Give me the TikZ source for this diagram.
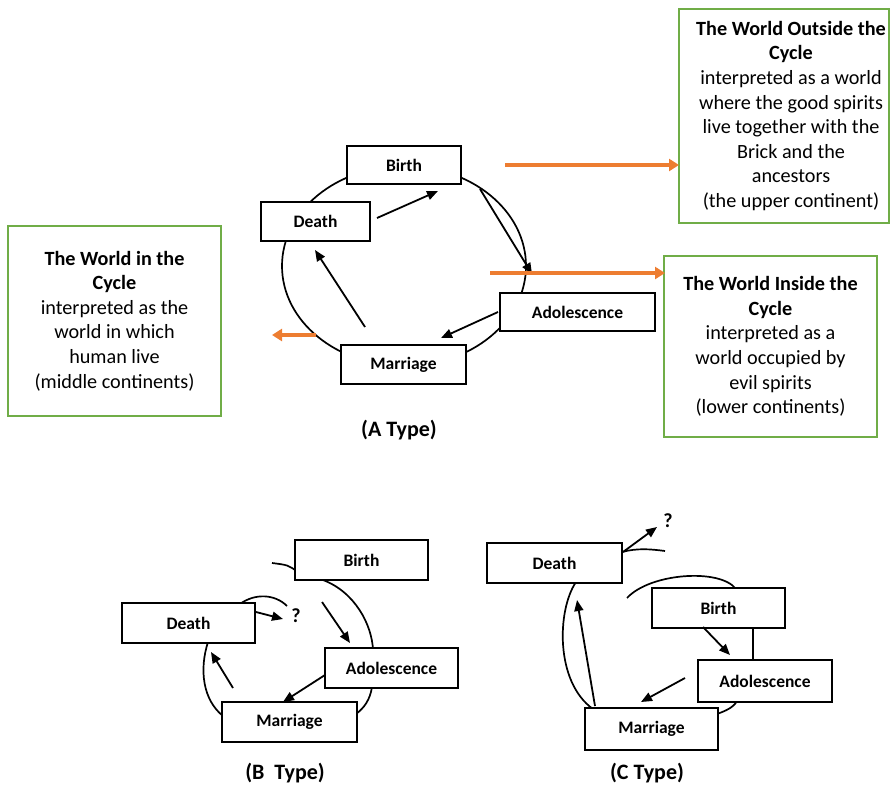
\documentclass[tikz,border=0pt]{standalone}
\usepackage{fontspec}
\setmainfont{Carlito}
\usetikzlibrary{arrows.meta}
\definecolor{orng}{HTML}{ED7D31}
\definecolor{grn}{HTML}{70AD47}
\tikzset{
  stagebox/.style={draw=black, line width=1.7pt, fill=white, inner sep=0pt,
    font=\bfseries\fontsize{17.5}{20}\selectfont},
  cyc/.style={line width=1.7pt, black},
  blk/.style={line width=1.8pt, black, -{Triangle[length=11pt,width=9pt]}},
  org/.style={line width=3.4pt, orng, -{Triangle[length=10pt,width=12pt]}},
  worldtext/.style={inner sep=0pt, align=center,
    font=\fontsize{20.2}{24.6}\selectfont},
  world/.style={worldtext, draw=grn, line width=2pt, fill=white},
  typelabel/.style={font=\bfseries\fontsize{22}{24}\selectfont, inner sep=0pt},
  qlabel/.style={font=\bfseries\fontsize{20}{22}\selectfont, inner sep=0pt},
}
\begin{document}
\begin{tikzpicture}[x=1pt,y=-1pt]
\useasboundingbox (0,0) rectangle (893,787);

% ---------- Panel A ----------
\draw[cyc] (404,266) ellipse [x radius=122, y radius=100];
\node[stagebox, minimum width=114pt, minimum height=38pt] (birthA) at (404,165) {Birth};
\node[stagebox, minimum width=109pt, minimum height=39pt] (deathA) at (315.5,221.5) {Death};
\node[stagebox, minimum width=155pt, minimum height=38pt] (adolA) at (577.5,312) {Adolescence};
\node[stagebox, minimum width=125pt, minimum height=39pt] (marrA) at (403.5,364.5) {Marriage};

\coordinate (a1s) at (377,218); \coordinate (a1e) at (438,191);
\coordinate (a2s) at (480,189); \coordinate (a2e) at (532,274);
\coordinate (a3s) at (498,312); \coordinate (a3e) at (441,338);
\coordinate (a4s) at (365,327); \coordinate (a4e) at (315,250);
\draw[blk] (a1s) -- (a1e);
\draw[blk] (a2s) -- (a2e);
\draw[blk] (a3s) -- (a3e);
\draw[blk] (a4s) -- (a4e);

\node[world, minimum width=210pt, minimum height=214pt] (outside) at (784,116) {};
\node[worldtext] (outsideText) at (791,116)
  {\textbf{The World Outside the}\\\textbf{Cycle}\\interpreted as a world\\where the good spirits\\live together with the\\Brick and the\\ancestors\\(the upper continent)};
\node[world, minimum width=213pt, minimum height=190pt] (incycle) at (114.5,321)
  {\textbf{The World in the}\\\textbf{Cycle}\\interpreted as the\\world in which\\human live\\(middle continents)};
\node[world, minimum width=213pt, minimum height=181pt] (inside) at (770.5,346.5)
  {\textbf{The World Inside the}\\\textbf{Cycle}\\interpreted as a\\world occupied by\\evil spirits\\(lower continents)};

\coordinate (o1s) at (505,165); \coordinate (o1e) at (679,165);
\coordinate (o2s) at (490,273); \coordinate (o2e) at (665,273);
\coordinate (o3s) at (316,335); \coordinate (o3e) at (272,335);
\draw[org] (o1s) -- (o1e);
\draw[org] (o2s) -- (o2e);
\draw[org] (o3s) -- (o3e);

\node[typelabel] (typeA) at (399,430) {(A Type)};

% ---------- Panel B ----------
\draw[cyc] (272,563) .. controls (288,565) .. (298,572);
\draw[cyc] (323,580) .. controls (355,592) and (372,625) .. (373,650);
\draw[cyc] (240,604) .. controls (255,593) and (275,594) .. (287,606);
\draw[cyc] (208,642) .. controls (199,670) and (203,700) .. (223,716);
\draw[cyc] (372,687) .. controls (370,700) and (364,708) .. (356,714);
\node[stagebox, minimum width=133pt, minimum height=40pt] (birthB) at (361.5,560) {Birth};
\node[stagebox, minimum width=133pt, minimum height=40pt] (deathB) at (188.5,623) {Death};
\node[stagebox, minimum width=133pt, minimum height=40pt] (adolB) at (391.5,668) {Adolescence};
\node[stagebox, minimum width=135pt, minimum height=40pt] (marrB) at (289.5,722) {Marriage};
\node[qlabel] (qB) at (296,616) {?};
\coordinate (b1s) at (256,612); \coordinate (b1e) at (283,619);
\coordinate (b2s) at (322,602); \coordinate (b2e) at (350,643);
\coordinate (b3s) at (325,675); \coordinate (b3e) at (283,702);
\coordinate (b4s) at (233,688); \coordinate (b4e) at (211,652);
\draw[blk] (b1s) -- (b1e);
\draw[blk] (b2s) -- (b2e);
\draw[blk] (b3s) -- (b3e);
\draw[blk] (b4s) -- (b4e);
\node[typelabel] (typeB) at (285,773) {(B\ \ Type)};

% ---------- Panel C ----------
\draw[cyc] (622,552) .. controls (637,548) and (650,549) .. (665,551);
\draw[cyc] (627,598) .. controls (650,573) and (720,568) .. (736,589);
\draw[cyc] (753,628) -- (753,661);
\draw[cyc] (576,582) .. controls (557,610) and (555,682) .. (593,709);
\draw[cyc] (737,701) .. controls (733,708) and (725,711) .. (717,714);
\node[stagebox, minimum width=135pt, minimum height=40pt] (deathC) at (554.5,563) {Death};
\node[stagebox, minimum width=133pt, minimum height=40pt] (birthC) at (718.5,608) {Birth};
\node[stagebox, minimum width=134pt, minimum height=42pt] (adolC) at (765,681) {Adolescence};
\node[stagebox, minimum width=133pt, minimum height=42pt] (marrC) at (651.5,729) {Marriage};
\node[qlabel] (qC) at (668,521) {?};
\coordinate (c1s) at (623,552); \coordinate (c1e) at (657,527);
\coordinate (c2s) at (703,627); \coordinate (c2e) at (730,655);
\coordinate (c3s) at (685,678); \coordinate (c3e) at (641,702);
\coordinate (c4s) at (595,706); \coordinate (c4e) at (577,600);
\draw[blk] (c1s) -- (c1e);
\draw[blk] (c2s) -- (c2e);
\draw[blk] (c3s) -- (c3e);
\draw[blk] (c4s) -- (c4e);
\node[typelabel] (typeC) at (647,773) {(C Type)};
\end{tikzpicture}
\end{document}
